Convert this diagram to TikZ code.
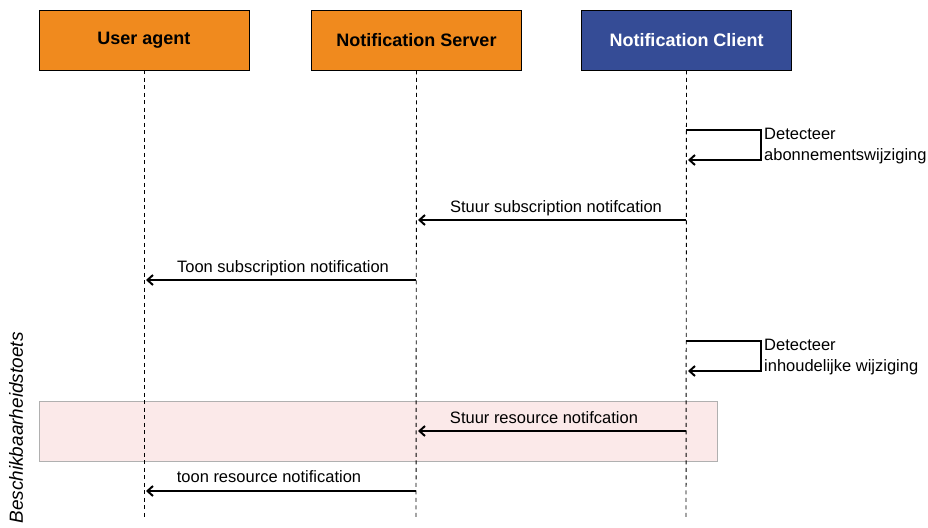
\documentclass[tikz,border=0pt]{standalone}
\usepackage{fontspec}
\setmainfont{Liberation Sans}
\usetikzlibrary{arrows.meta}
\definecolor{orangebox}{HTML}{F08A1E}
\definecolor{bluebox}{HTML}{354C96}
\definecolor{pinkfill}{HTML}{FBE9E9}
\definecolor{greyline}{HTML}{B0B0B0}
\begin{document}
\begin{tikzpicture}[x=1pt,y=-1pt,
  actor/.style={draw=black,line width=0.9pt,minimum width=210pt,minimum height=60pt,inner sep=0pt,font=\fontsize{18}{21}\selectfont\bfseries},
  life/.style={draw=black,line width=0.9pt,dash pattern=on 4pt off 3.5pt},
  msg/.style={draw=black,line width=1.1pt,-{Straight Barb[length=5.5pt,width=10pt,line width=2pt]}},
  lbl/.style={font=\fontsize{16.5}{21}\selectfont,inner sep=0pt},
  every node/.style={inner sep=0pt}]
\useasboundingbox (0,0) rectangle (928,527);
% frame
\node[draw=greyline,fill=pinkfill,line width=0.9pt,minimum width=678pt,minimum height=60pt,anchor=north west] (frame) at (39,401) {};
\node[lbl,font=\fontsize{19}{22}\selectfont\itshape,rotate=90] (ftitle) at (16,428) {Beschikbaarheidstoets};
% actors
\node[actor,fill=orangebox] (ua) at (144,40) {User agent};
\node[actor,fill=orangebox] (ns) at (416.5,40) {Notification Server};
\node[actor,fill=bluebox,text=white] (nc) at (686.5,40) {Notification Client};
\coordinate (uaE) at (144,520);
\coordinate (nsE) at (416,520);
\coordinate (ncE) at (686,520);
\draw[life] (ua.south) -- (uaE);
\draw[life] (ns.south) -- (nsE);
\draw[life] (nc.south) -- (ncE);
% self loop 1
\coordinate (s1a) at (686,130);
\coordinate (s1b) at (761,130);
\coordinate (s1c) at (761,160);
\coordinate (s1d) at (688,160);
\draw[msg] (s1a) -- (s1b) -- (s1c) -- (s1d);
\node[lbl,anchor=west,align=left] (t1) at (764,146) {Detecteer\\abonnementswijziging};
% msg 1
\coordinate (m1a) at (686,220);
\coordinate (m1b) at (418,220);
\draw[msg] (m1a) -- (m1b);
\node[lbl] (l1) at (556,208) {Stuur subscription notifcation};
% msg 2
\coordinate (m2a) at (416,280);
\coordinate (m2b) at (146,280);
\draw[msg] (m2a) -- (m2b);
\node[lbl] (l2) at (283,268) {Toon subscription notification};
% self loop 2
\coordinate (s2a) at (686,341);
\coordinate (s2b) at (761,341);
\coordinate (s2c) at (761,371);
\coordinate (s2d) at (688,371);
\draw[msg] (s2a) -- (s2b) -- (s2c) -- (s2d);
\node[lbl,anchor=west,align=left] (t2) at (764,357) {Detecteer\\inhoudelijke wijziging};
% msg 3
\coordinate (m3a) at (686,431);
\coordinate (m3b) at (418,431);
\draw[msg] (m3a) -- (m3b);
\node[lbl] (l3) at (544,418) {Stuur resource notifcation};
% msg 4
\coordinate (m4a) at (416,491);
\coordinate (m4b) at (146,491);
\draw[msg] (m4a) -- (m4b);
\node[lbl] (l4) at (269,477) {toon resource notification};
\end{tikzpicture}
\end{document}
